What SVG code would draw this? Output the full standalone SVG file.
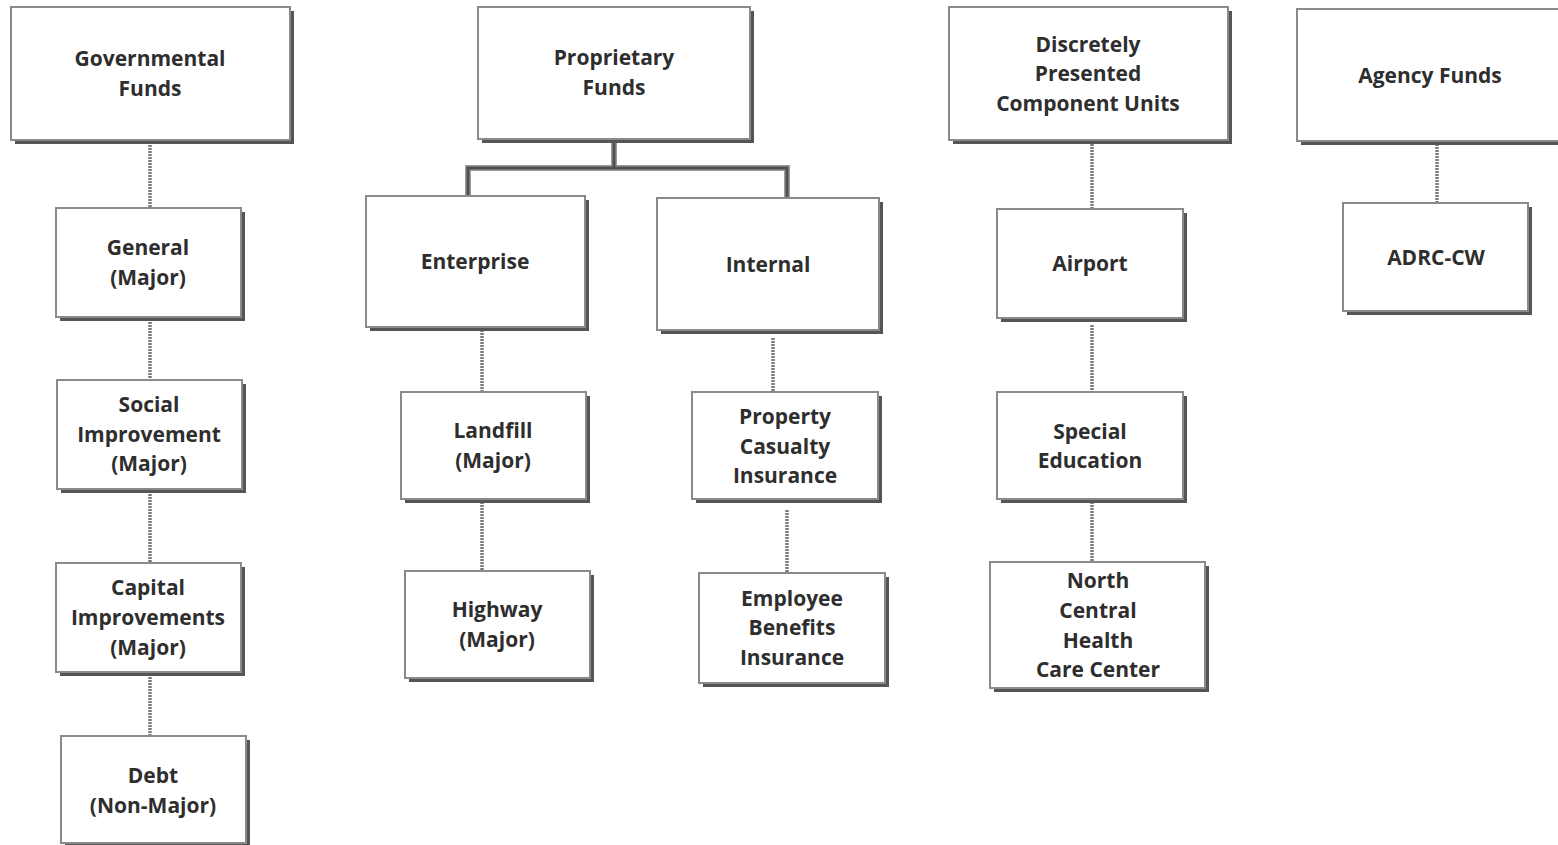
<svg xmlns="http://www.w3.org/2000/svg" width="1558" height="845" viewBox="0 0 1558 845">
  <style>
    .sh { fill: #555; }
    .bx { fill: #fff; stroke: #8a8a8a; stroke-width: 2; }
    .t { font-family: "Open Sans", "Noto Sans", "DejaVu Sans", sans-serif; font-weight: bold; font-size: 21px; fill: #2e2e2e; text-anchor: middle; }
    .dot { stroke: #7a7a7a; stroke-width: 3.5; stroke-dasharray: 2 1; fill: none; }
    .solidhalo { stroke: #9a9a9a; stroke-width: 6; fill: none; }
    .solid { stroke: #505050; stroke-width: 3; fill: none; }
  </style>
  <rect width="1558" height="845" fill="#fff"/>

  <!-- connectors -->
  <g id="connectors">
    <line class="dot" x1="150" y1="142" x2="150" y2="208"/>
    <line class="dot" x1="150" y1="322" x2="150" y2="380"/>
    <line class="dot" x1="150" y1="494" x2="150" y2="563"/>
    <line class="dot" x1="150" y1="677" x2="150" y2="736"/>
    <path class="solidhalo" d="M614,141 V168 M468,196 V168 H787 V199"/>
    <path class="solid" d="M614,141 V168 M468,196 V168 H787 V199"/>
    <line class="dot" x1="482" y1="330" x2="482" y2="392"/>
    <line class="dot" x1="482" y1="502" x2="482" y2="571"/>
    <line class="dot" x1="773" y1="338" x2="773" y2="392"/>
    <line class="dot" x1="787" y1="510" x2="787" y2="573"/>
    <line class="dot" x1="1092" y1="144" x2="1092" y2="209"/>
    <line class="dot" x1="1092" y1="325" x2="1092" y2="392"/>
    <line class="dot" x1="1092" y1="502" x2="1092" y2="562"/>
    <line class="dot" x1="1437" y1="144" x2="1437" y2="210"/>
  </g>

  <g id="governmental-funds">
    <rect class="sh" x="15" y="11" width="279" height="133"/>
    <rect class="bx" x="11" y="7" width="279" height="133"/>
    <text class="t" x="150" y="66">Governmental</text>
    <text class="t" x="150" y="96">Funds</text>
  </g>
  <g id="general">
    <rect class="sh" x="60" y="212" width="185" height="109"/>
    <rect class="bx" x="56" y="208" width="185" height="109"/>
    <text class="t" x="148" y="255">General</text>
    <text class="t" x="148" y="285">(Major)</text>
  </g>
  <g id="social-improvement">
    <rect class="sh" x="61" y="384" width="185" height="109"/>
    <rect class="bx" x="57" y="380" width="185" height="109"/>
    <text class="t" x="149" y="412">Social</text>
    <text class="t" x="149" y="442">Improvement</text>
    <text class="t" x="149" y="471">(Major)</text>
  </g>
  <g id="capital-improvements">
    <rect class="sh" x="60" y="567" width="185" height="109"/>
    <rect class="bx" x="56" y="563" width="185" height="109"/>
    <text class="t" x="148" y="595">Capital</text>
    <text class="t" x="148" y="625">Improvements</text>
    <text class="t" x="148" y="655">(Major)</text>
  </g>
  <g id="debt">
    <rect class="sh" x="65" y="740" width="185" height="108"/>
    <rect class="bx" x="61" y="736" width="185" height="107"/>
    <text class="t" x="153" y="783">Debt</text>
    <text class="t" x="153" y="813">(Non-Major)</text>
  </g>

  <g id="proprietary-funds">
    <rect class="sh" x="482" y="11" width="272" height="132"/>
    <rect class="bx" x="478" y="7" width="272" height="132"/>
    <text class="t" x="614" y="65">Proprietary</text>
    <text class="t" x="614" y="95">Funds</text>
  </g>
  <g id="enterprise">
    <rect class="sh" x="370" y="200" width="219" height="131"/>
    <rect class="bx" x="366" y="196" width="219" height="131"/>
    <text class="t" x="475" y="269">Enterprise</text>
  </g>
  <g id="internal">
    <rect class="sh" x="661" y="202" width="222" height="132"/>
    <rect class="bx" x="657" y="198" width="222" height="132"/>
    <text class="t" x="768" y="272">Internal</text>
  </g>
  <g id="landfill">
    <rect class="sh" x="405" y="396" width="185" height="107"/>
    <rect class="bx" x="401" y="392" width="185" height="107"/>
    <text class="t" x="493" y="438">Landfill</text>
    <text class="t" x="493" y="468">(Major)</text>
  </g>
  <g id="highway">
    <rect class="sh" x="409" y="575" width="185" height="107"/>
    <rect class="bx" x="405" y="571" width="185" height="107"/>
    <text class="t" x="497" y="617">Highway</text>
    <text class="t" x="497" y="647">(Major)</text>
  </g>
  <g id="property-casualty">
    <rect class="sh" x="696" y="396" width="186" height="107"/>
    <rect class="bx" x="692" y="392" width="186" height="107"/>
    <text class="t" x="785" y="424">Property</text>
    <text class="t" x="785" y="454">Casualty</text>
    <text class="t" x="785" y="483">Insurance</text>
  </g>
  <g id="employee-benefits">
    <rect class="sh" x="703" y="577" width="186" height="110"/>
    <rect class="bx" x="699" y="573" width="186" height="110"/>
    <text class="t" x="792" y="606">Employee</text>
    <text class="t" x="792" y="635">Benefits</text>
    <text class="t" x="792" y="665">Insurance</text>
  </g>

  <g id="component-units">
    <rect class="sh" x="953" y="11" width="279" height="133"/>
    <rect class="bx" x="949" y="7" width="279" height="133"/>
    <text class="t" x="1088" y="52">Discretely</text>
    <text class="t" x="1088" y="81">Presented</text>
    <text class="t" x="1088" y="111">Component Units</text>
  </g>
  <g id="airport">
    <rect class="sh" x="1001" y="213" width="186" height="109"/>
    <rect class="bx" x="997" y="209" width="186" height="109"/>
    <text class="t" x="1090" y="271">Airport</text>
  </g>
  <g id="special-education">
    <rect class="sh" x="1001" y="396" width="186" height="107"/>
    <rect class="bx" x="997" y="392" width="186" height="107"/>
    <text class="t" x="1090" y="439">Special</text>
    <text class="t" x="1090" y="468">Education</text>
  </g>
  <g id="north-central">
    <rect class="sh" x="994" y="566" width="215" height="126"/>
    <rect class="bx" x="990" y="562" width="215" height="126"/>
    <text class="t" x="1098" y="588">North</text>
    <text class="t" x="1098" y="618">Central</text>
    <text class="t" x="1098" y="648">Health</text>
    <text class="t" x="1098" y="677">Care Center</text>
  </g>

  <g id="agency-funds">
    <rect class="sh" x="1301" y="13" width="280" height="132"/>
    <rect class="bx" x="1297" y="9" width="280" height="132"/>
    <text class="t" x="1430" y="83">Agency Funds</text>
  </g>
  <g id="adrc-cw">
    <rect class="sh" x="1347" y="207" width="185" height="108"/>
    <rect class="bx" x="1343" y="203" width="185" height="108"/>
    <text class="t" x="1436" y="265">ADRC-CW</text>
  </g>
</svg>
